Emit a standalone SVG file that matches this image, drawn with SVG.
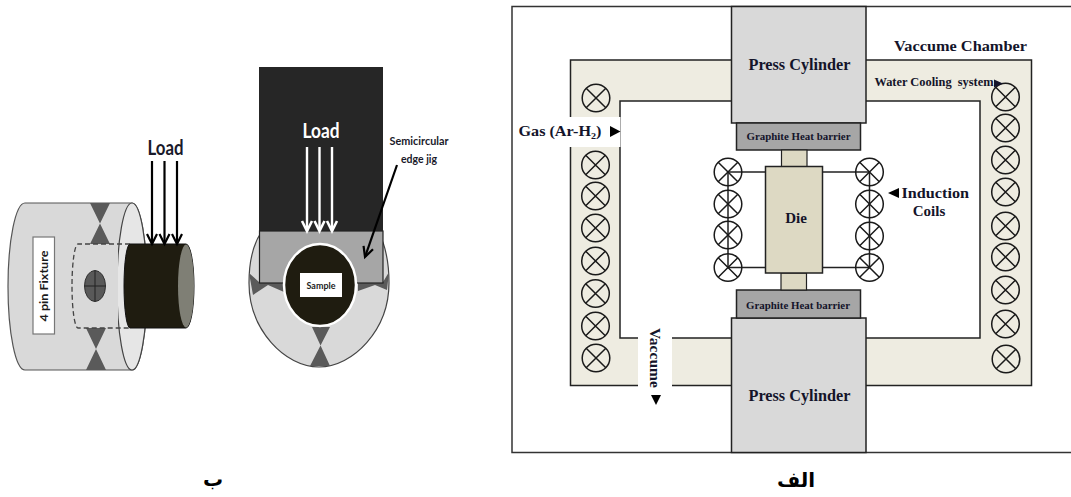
<svg xmlns="http://www.w3.org/2000/svg" width="1071" height="497" viewBox="0 0 1071 497">
<style>
.s{font-family:"Liberation Serif","Times New Roman",serif;font-weight:bold;fill:#14142a}
.c{font-family:Lato,"Open Sans",sans-serif;font-weight:bold}
.ar{font-family:"DejaVu Sans","Noto Sans",sans-serif;font-weight:bold;fill:#000}
.dk{fill:#5a5a5a}
.ln{stroke:#222;stroke-width:1.5;fill:none}
.k{stroke:#000;stroke-width:2.2;fill:none}
.w{stroke:#fff;stroke-width:2.4;fill:none}
</style>
<defs>
<g id="coil"><circle r="13.8" fill="none" stroke="#1a1a1a" stroke-width="1.5"/><path d="M-9.800-9.800 9.800 9.800M9.800-9.800-9.800 9.800" stroke="#1a1a1a" stroke-width="1.500"/></g>
<marker id="ak" markerUnits="userSpaceOnUse" markerWidth="16" markerHeight="16" refX="12" refY="8" orient="auto"><path d="M2 3 12 8 2 13" fill="none" stroke="#000" stroke-width="2.200"/></marker>
<marker id="aw" markerUnits="userSpaceOnUse" markerWidth="16" markerHeight="16" refX="12" refY="8" orient="auto"><path d="M2 3 12 8 2 13" fill="none" stroke="#fff" stroke-width="2.600"/></marker>
</defs>
<rect width="1071" height="497" fill="#fff"/>

<g id="fixture-side">
<path d="M25 203A17 83.5 0 0 0 25 370L132 370A15 83.5 0 0 0 132 203Z" fill="#d9d9d9" stroke="#555" stroke-width="1.2"/>
<ellipse cx="132" cy="286.5" rx="15" ry="83.5" fill="#e6e6e6" stroke="#444" stroke-width="1.2"/>
<path d="M78 244A6 42 0 0 0 78 328L118 328L118 244Z" fill="#d9d9d9"/>
<path d="M90 203H110L90 244H110ZM86 328H106L86 370H106Z" class="dk"/>
<path d="M130 244H78A6 42 0 0 0 78 328H130" fill="none" stroke="#444" stroke-width="1.3" stroke-dasharray="5 3"/>
<ellipse cx="95" cy="286" rx="10.5" ry="15.5" fill="#595959" stroke="#333"/>
<path d="M95 270.5V301.5M84.500 286H105.500" stroke="#222"/>
<rect x="33" y="237" width="21.500" height="97" fill="#fff" stroke="#777" stroke-width="1.2"/>
<text class="c" transform="translate(48 286) rotate(-90)" text-anchor="middle" font-size="12" textLength="71" lengthAdjust="spacingAndGlyphs" fill="#1a1a1a">4 pin Fixture</text>
<path d="M130 244H186A8 42 0 0 1 186 328H130A6 42 0 0 1 130 244Z" fill="#1f1c10" stroke="#111"/>
<ellipse cx="186" cy="286" rx="8" ry="41.500" fill="#7f7f75"/>
</g>
<text class="c" x="165.500" y="155" text-anchor="middle" font-size="20" textLength="36" lengthAdjust="spacingAndGlyphs" fill="#1a1a2a">Load</text>

<g id="fixture-front">
<path d="M262 231C253 244 249 264 249 283C249 330 285 367 319 367C353 367 389 330 389 283C389 264 385 244 378 231Z" fill="#d9d9d9" stroke="#444" stroke-width="1.2"/>
<path d="M249 273 259 282H284L284 292 268 285 253 295ZM389 272 383 282H358V291L375 285 387 290ZM312 327H330L310 366H330Z" class="dk"/>
<rect x="259" y="67" width="124" height="164" fill="#262626"/>
<rect x="259.500" y="231" width="123.500" height="52" fill="#a6a6a6" stroke="#222" stroke-width="1.2"/>
<ellipse cx="320" cy="285" rx="36" ry="41" fill="#1f1c10" stroke="#fff" stroke-width="2.500"/>
<rect x="300" y="273" width="42" height="24" fill="#fff"/>
<text class="c" x="321" y="289" text-anchor="middle" font-size="10" textLength="29" lengthAdjust="spacingAndGlyphs" fill="#222">Sample</text>
<text class="c" x="321" y="138" text-anchor="middle" font-size="21" textLength="37" lengthAdjust="spacingAndGlyphs" fill="#fff">Load</text>
<text class="c" x="419" y="145" text-anchor="middle" font-size="11.500" textLength="59" lengthAdjust="spacingAndGlyphs" fill="#1a1a2a">Semicircular</text>
<text class="c" x="419" y="163" text-anchor="middle" font-size="11.500" textLength="36" lengthAdjust="spacingAndGlyphs" fill="#1a1a2a">edge jig</text>
</g>

<g id="frame"><rect x="512" y="6.500" width="570" height="446" fill="#fff" stroke="#333" stroke-width="1.5"/></g>
<g id="chamber">
<path d="M570.500 60H1031.500V385.500H570.500ZM620 101V338H980V101Z" fill="#eeece1" fill-rule="evenodd" stroke="#222" stroke-width="1.5"/>
<rect x="560" y="117" width="60.500" height="30" fill="#fff"/>
<rect x="638" y="336" width="34" height="52" fill="#fff"/>
</g>
<g id="coils-outer">
<use href="#coil" x="596" y="98"/><use href="#coil" x="595.500" y="165"/><use href="#coil" x="595.500" y="196"/><use href="#coil" x="595.500" y="228"/><use href="#coil" x="595.500" y="261"/><use href="#coil" x="595.500" y="293.500"/><use href="#coil" x="595.500" y="326"/><use href="#coil" x="596" y="358"/>
<use href="#coil" x="1005.500" y="97"/><use href="#coil" x="1005.500" y="128"/><use href="#coil" x="1005.500" y="160"/><use href="#coil" x="1005.500" y="192"/><use href="#coil" x="1005.500" y="226"/><use href="#coil" x="1005.500" y="257"/><use href="#coil" x="1005.500" y="290"/><use href="#coil" x="1005.500" y="324"/><use href="#coil" x="1006" y="359"/>
</g>
<g id="press-top"><rect x="731.500" y="6.500" width="134.500" height="116.500" fill="#d9d9d9" stroke="#222" stroke-width="1.5"/><text class="s" x="799.500" y="70" text-anchor="middle" font-size="16" textLength="102" lengthAdjust="spacingAndGlyphs">Press Cylinder</text></g>
<g id="press-bottom"><rect x="731.500" y="318" width="134.500" height="134.500" fill="#d9d9d9" stroke="#222" stroke-width="1.500"/><text class="s" x="799.500" y="401" text-anchor="middle" font-size="16" textLength="102" lengthAdjust="spacingAndGlyphs">Press Cylinder</text></g>
<g id="barrier-top"><rect x="736.500" y="123" width="124" height="27" fill="#a6a6a6" stroke="#222" stroke-width="1.500"/><text class="s" x="798.500" y="140" text-anchor="middle" font-size="11" textLength="104" lengthAdjust="spacingAndGlyphs">Graphite Heat barrier</text></g>
<g id="barrier-bottom"><rect x="736.500" y="290" width="124" height="28" fill="#a6a6a6" stroke="#222" stroke-width="1.500"/><text class="s" x="798" y="309" text-anchor="middle" font-size="11" textLength="104" lengthAdjust="spacingAndGlyphs">Graphite Heat barrier</text></g>
<g id="die">
<rect x="781.500" y="150" width="25.500" height="17" fill="#ddd9c3" stroke="#222" stroke-width="1.200"/>
<rect x="781" y="273" width="25.500" height="17" fill="#ddd9c3" stroke="#222" stroke-width="1.200"/>
<rect x="765.500" y="166.500" width="57" height="106.500" fill="#ddd9c3" stroke="#222" stroke-width="1.500"/>
<text class="s" x="796" y="223" text-anchor="middle" font-size="15">Die</text>
</g>
<g id="connectors">
<path class="ln" d="M728 172H765.500M728 267.500H765.500M822.500 172H869.500M822.500 267.500H869.500M728 172V267.500M869.500 172V267.500"/>
<path class="k" marker-end="url(#ak)" d="M152 161V244"/>
<path class="k" marker-end="url(#ak)" d="M164.500 161V244"/>
<path class="k" marker-end="url(#ak)" d="M177 161V244"/>
<path class="w" marker-end="url(#aw)" d="M307 147V231"/>
<path class="w" marker-end="url(#aw)" d="M319.500 147V231"/>
<path class="w" marker-end="url(#aw)" d="M332 147V231"/>
<path class="k" marker-end="url(#ak)" d="M397 165 365 257"/>
</g>
<g id="coils-inner">
<use href="#coil" x="728" y="172"/><use href="#coil" x="728" y="204"/><use href="#coil" x="728" y="235"/><use href="#coil" x="728" y="267.500"/>
<use href="#coil" x="869.500" y="172"/><use href="#coil" x="869.500" y="204"/><use href="#coil" x="869.500" y="236"/><use href="#coil" x="869.500" y="267.500"/>
</g>
<g id="labels">
<text class="s" x="894" y="51" font-size="15" textLength="133" lengthAdjust="spacingAndGlyphs">Vaccume Chamber</text>
<text class="s" x="874.500" y="86" font-size="12" textLength="119" lengthAdjust="spacingAndGlyphs" xml:space="preserve">Water Cooling  system</text>
<path d="M994 79.500 1003 83.500 994 87.500Z" fill="#14142a"/>
<text class="s" x="518.500" y="136" font-size="14.500" textLength="83" lengthAdjust="spacingAndGlyphs">Gas (Ar-H<tspan font-size="9" dy="3">2</tspan><tspan dy="-3">)</tspan></text>
<path d="M610 126 620.500 131.500 610 137Z" fill="#000"/>
<path d="M899 188V198L888 193Z" fill="#000"/>
<text class="s" x="901.500" y="198" font-size="15" textLength="67.500" lengthAdjust="spacingAndGlyphs">Induction</text>
<text class="s" x="929" y="216" text-anchor="middle" font-size="15">Coils</text>
<text class="s" transform="translate(650 328) rotate(90)" font-size="14" textLength="60" lengthAdjust="spacingAndGlyphs">Vaccume</text>
<path d="M651 395H661L656 405Z" fill="#000"/>
<text class="ar" x="796" y="487" text-anchor="middle" font-size="20">الف</text>
<text class="ar" x="213" y="486" text-anchor="middle" font-size="20">ب</text>
</g>
</svg>
